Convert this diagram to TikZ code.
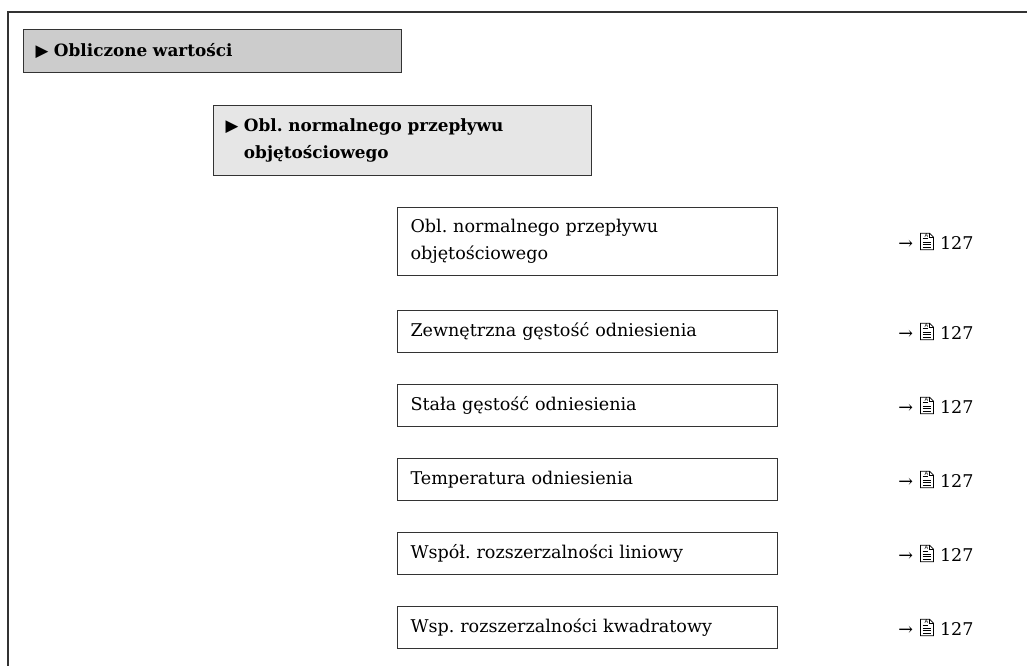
\documentclass[tikz,border=0pt]{standalone}
\usepackage{fontspec}
\setmainfont{DejaVu Serif}
\newfontfamily\symfont{DejaVu Sans}
\usetikzlibrary{positioning}
\frenchspacing

\definecolor{menugray}{HTML}{CCCCCC}
\definecolor{submenugray}{HTML}{E6E6E6}
\definecolor{framegray}{HTML}{333333}

\newcommand{\docicon}{\tikz[baseline=0pt, x=1pt, y=1pt, line width=0.45pt]{
  \draw (0,0) -- (0,9.4) -- (5.2,9.4) -- (7.4,7.2) -- (7.4,0) -- cycle;
  \draw (5.2,9.4) -- (5.2,7.2) -- (7.4,7.2);
  \draw (1.2,6.2) -- (4.2,6.2);
  \foreach \ly in {1.4,2.9,4.4} \draw (1.2,\ly) -- (6.2,\ly);
  \node[font=\fontsize{3}{3}\selectfont\symfont, inner sep=0pt] at (2.2,7.9) {A};
}}
\newcommand{\menutri}{{\symfont\fontsize{9.5}{9.5}\selectfont ▶}}
\newcommand{\seeref}{→\hspace{4pt}\docicon\hspace{3.5pt}127}

\begin{document}
\begin{tikzpicture}[x=0.02cm, y=-0.02cm,
    menu/.style={draw=framegray, line width=0.6pt, anchor=north west, align=left,
      inner xsep=0.24cm, text width=7.08cm, font=\fontsize{9.6}{15.5}\selectfont\bfseries},
    param/.style={draw=framegray, line width=0.6pt, anchor=north west, align=left,
      inner xsep=0.26cm, text width=7.08cm, minimum height=0.84cm, font=\fontsize{10}{15.5}\selectfont},
    pageref/.style={inner sep=0pt, font=\fontsize{10}{11}\selectfont}
]
\useasboundingbox (0,0) rectangle (1027,666);
\draw[line width=0.7pt, framegray] (1027,12) -- (8,12) -- (8,666);
\node[menu, fill=menugray, minimum height=0.86cm] (m1) at (23,29) {\menutri\ Obliczone wartości};
\node[menu, fill=submenugray, minimum height=1.4cm] (m2) at (213,105) {\menutri\ Obl. normalnego przepływu\\\hphantom{\menutri\ }objętościowego};
\node[param, minimum height=1.36cm] (pa) at (397,207) {Obl. normalnego przepływu\\objętościowego};
\node[param] (pb) at (397,310) {Zewnętrzna gęstość odniesienia};
\node[param] (pc) at (397,384) {Stała gęstość odniesienia};
\node[param] (pd) at (397,458) {Temperatura odniesienia};
\node[param] (pe) at (397,532) {Współ. rozszerzalności liniowy};
\node[param] (pf) at (397,606) {Wsp. rozszerzalności kwadratowy};
\node[pageref, right=2.4cm of pa] (ra) {\seeref};
\node[pageref, right=2.4cm of pb] (rb) {\seeref};
\node[pageref, right=2.4cm of pc] (rc) {\seeref};
\node[pageref, right=2.4cm of pd] (rd) {\seeref};
\node[pageref, right=2.4cm of pe] (re) {\seeref};
\node[pageref, right=2.4cm of pf] (rf) {\seeref};
\end{tikzpicture}
\end{document}
